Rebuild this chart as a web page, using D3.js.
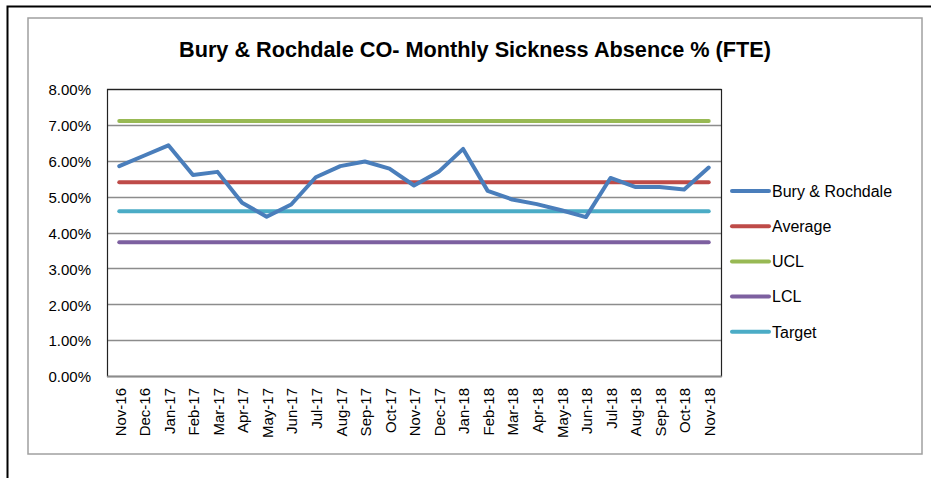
<!DOCTYPE html>
<html>
<head>
<meta charset="utf-8">
<script src="https://cdn.jsdelivr.net/npm/d3@7"></script>
<style>
  body { margin: 0; background: #fff; }
  svg text { font-family: "Liberation Sans", Arial, sans-serif; fill: #000; }
</style>
</head>
<body>
<div id="canvas"></div>
<script>
// chart data
const months = ['Nov-16', 'Dec-16', 'Jan-17', 'Feb-17', 'Mar-17', 'Apr-17', 'May-17', 'Jun-17', 'Jul-17',
    'Aug-17', 'Sep-17', 'Oct-17', 'Nov-17', 'Dec-17', 'Jan-18', 'Feb-18', 'Mar-18', 'Apr-18', 'May-18',
    'Jun-18', 'Jul-18', 'Aug-18', 'Sep-18', 'Oct-18', 'Nov-18'];
const buryRochdale = [5.85, 6.14, 6.43, 5.60, 5.69, 4.83, 4.44, 4.78, 5.54, 5.85, 5.98, 5.78, 5.31,
    5.69, 6.33, 5.16, 4.92, 4.79, 4.62, 4.43, 5.52, 5.27, 5.27, 5.20, 5.81];
const average = 5.40;
const ucl = 7.11;
const lcl = 3.73;
const target = 4.59;
const yTicks = [0, 1, 2, 3, 4, 5, 6, 7, 8];

const seriesNames = ['Bury & Rochdale', 'Average', 'UCL', 'LCL', 'Target'];
const colors = { 'Bury & Rochdale': '#4a7ebb', 'Average': '#be4b48', 'UCL': '#98b954', 'LCL': '#7d60a0', 'Target': '#4bacc6' };

function draw() {
    const W = 931, H = 478;
    const plot = { left: 107, top: 89, right: 721, bottom: 376 };

    const svg = d3.select('#canvas').append('svg')
        .attr('width', W)
        .attr('height', H);

    svg.append('rect').attr('width', W).attr('height', H).attr('fill', '#fff');

    // outer frame (top and left only visible)
    svg.append('path')
        .attr('d', 'M7.5,' + H + 'V6.5H' + W)
        .attr('fill', 'none')
        .attr('stroke', '#000')
        .attr('stroke-width', 2);

    // chart area border
    svg.append('rect')
        .attr('x', 28).attr('y', 18)
        .attr('width', 894).attr('height', 436)
        .attr('fill', 'none')
        .attr('stroke', '#a0a0a0')
        .attr('stroke-width', 1.5);

    svg.append('text')
        .attr('x', 475)
        .attr('y', 57)
        .attr('text-anchor', 'middle')
        .attr('font-size', 22)
        .attr('font-weight', 'bold')
        .attr('textLength', 592)
        .attr('lengthAdjust', 'spacingAndGlyphs')
        .text('Bury & Rochdale CO- Monthly Sickness Absence % (FTE)');

    const x = d3.scaleBand()
        .domain(months)
        .range([plot.left, plot.right]);

    const y = d3.scaleLinear()
        .domain([0, 8])
        .range([plot.bottom, plot.top]);

    const cx = m => x(m) + x.bandwidth() / 2;

    // gridlines
    svg.append('g')
        .selectAll('line')
        .data(yTicks)
        .enter()
        .append('line')
            .attr('x1', plot.left)
            .attr('x2', plot.right)
            .attr('y1', d => Math.round(y(d)) + 0.5)
            .attr('y2', d => Math.round(y(d)) + 0.5)
            .attr('stroke', '#8c8c8c')
            .attr('stroke-width', 1.3);

    // plot border
    svg.append('rect')
        .attr('x', plot.left + 0.5).attr('y', plot.top + 0.5)
        .attr('width', plot.right - plot.left).attr('height', plot.bottom - plot.top)
        .attr('fill', 'none')
        .attr('stroke', '#222')
        .attr('stroke-width', 1.2);
    svg.append('line')
        .attr('x1', plot.left).attr('x2', plot.right + 1)
        .attr('y1', plot.bottom + 0.5).attr('y2', plot.bottom + 0.5)
        .attr('stroke', '#8c8c8c').attr('stroke-width', 1.5);

    // y axis labels
    const yAxis = d3.axisLeft(y)
        .tickValues(yTicks)
        .tickSize(0)
        .tickPadding(16)
        .tickFormat(d => d.toFixed(2) + '%');
    svg.append('g')
        .attr('transform', 'translate(' + plot.left + ',1)')
        .call(yAxis)
        .call(g => g.select('.domain').remove())
        .selectAll('text')
            .attr('font-size', 15)
            .attr('font-family', '"Liberation Sans", Arial, sans-serif')
            .attr('fill', '#000');

    // x axis labels
    const xAxis = d3.axisBottom(x).tickSize(0).tickPadding(0);
    svg.append('g')
        .attr('transform', 'translate(0,' + plot.bottom + ')')
        .call(xAxis)
        .call(g => g.select('.domain').remove())
        .selectAll('text')
            .attr('font-size', 15)
            .attr('font-family', '"Liberation Sans", Arial, sans-serif')
            .attr('fill', '#000')
            .attr('text-anchor', 'end')
            .attr('dy', '0.35em')
            .attr('transform', 'translate(1,12) rotate(-90)');

    // horizontal reference lines
    const refs = [
        { name: 'UCL', value: ucl },
        { name: 'Average', value: average },
        { name: 'Target', value: target },
        { name: 'LCL', value: lcl }
    ];
    const first = months[0], last = months[months.length - 1];
    svg.append('g')
        .selectAll('line')
        .data(refs)
        .enter()
        .append('line')
            .attr('x1', cx(first))
            .attr('x2', cx(last))
            .attr('y1', d => y(d.value))
            .attr('y2', d => y(d.value))
            .attr('stroke', d => colors[d.name])
            .attr('stroke-width', 4)
            .attr('stroke-linecap', 'round');

    // main series
    const line = d3.line()
        .x((d, i) => cx(months[i]))
        .y(d => y(d));
    svg.append('path')
        .datum(buryRochdale)
        .attr('d', line)
        .attr('fill', 'none')
        .attr('stroke', colors['Bury & Rochdale'])
        .attr('stroke-width', 4)
        .attr('stroke-linejoin', 'round')
        .attr('stroke-linecap', 'round');

    // legend
    const legend = svg.append('g')
        .selectAll('g')
        .data(seriesNames)
        .enter()
        .append('g')
            .attr('transform', (d, i) => 'translate(732,' + (191 + i * 35.2) + ')');
    legend.append('line')
        .attr('x1', 0).attr('x2', 37)
        .attr('stroke', d => colors[d])
        .attr('stroke-width', 4)
        .attr('stroke-linecap', 'round');
    legend.append('text')
        .attr('x', 40)
        .attr('dy', '0.36em')
        .attr('font-size', 16)
        .text(d => d);
}

draw();
</script>
</body>
</html>
